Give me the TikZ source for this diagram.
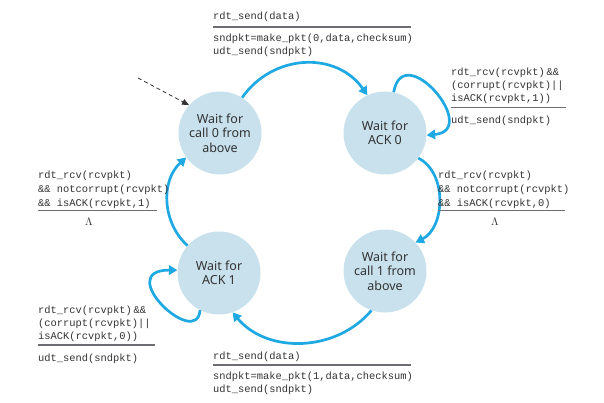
\documentclass[tikz,border=0pt]{standalone}
\usepackage{fontspec}
\setmainfont{Noto Sans}
\setmonofont{Liberation Mono}
\usetikzlibrary{arrows.meta}

\definecolor{statefill}{HTML}{C8E1ED}
\definecolor{flowblue}{HTML}{1FA9E3}
\definecolor{rulegray}{HTML}{6C6E74}
\definecolor{inkgray}{HTML}{333333}

\tikzset{
  state/.style={circle, fill=statefill, minimum size=83pt, inner sep=0pt,
    align=center, text=inkgray, font=\fontsize{12.5}{14.5}\selectfont},
  trans/.style={draw=flowblue, line width=2.7pt,
    -{Triangle[length=8.5pt,width=9.5pt]}},
  code/.style={anchor=base west, inner sep=0pt, text=inkgray,
    font=\ttfamily\fontsize{10.4}{13}\selectfont},
  lambda/.style={anchor=base, inner sep=0pt, text=inkgray,
    font=\fontsize{11}{13}\selectfont},
  divider/.style={draw=rulegray, line width=1.3pt},
  initarrow/.style={draw=inkgray, line width=0.8pt, dashed,
    dash pattern=on 4pt off 3pt, -{Triangle[length=7pt,width=6pt]}}
}

\begin{document}
\begin{tikzpicture}[x=1pt,y=1pt]
  \fill[white] (0,0) rectangle (604,402);
  \useasboundingbox (0,0) rectangle (604,402);

  % states
  \node[state] (w0)  at (220,269) {Wait for\\call 0 from\\above};
  \node[state] (a0)  at (385,269) {Wait for\\ACK 0};
  \node[state] (w1)  at (385,131) {Wait for\\call 1 from\\above};
  \node[state] (a1)  at (219,129) {Wait for\\ACK 1};

  % initial transition
  \coordinate (start) at (138,324);
  \draw[initarrow] (start) -- (w0.138);

  % transitions
  \draw[trans] (w0.58) to[out=55,in=125,looseness=1.1] (a0.115);
  \draw[trans] (a0.78) to[out=80,in=5,distance=55pt] (a0.-3);
  \draw[trans] (a0.-37) to[out=-27,in=27] (w1.43);
  \draw[trans] (w1.-109) to[out=-130,in=-50] (a1.-71);
  \draw[trans] (a1.-117) to[out=-95,in=180,out distance=40pt,in distance=65pt] (a1.176);
  \draw[trans] (a1.139) to[out=138,in=-138] (w0.-144);

  % label: w0 -> a0
  \node[code] (e1a) at (213,382) {rdt\_send(data)};
  \draw[divider] (213,375) -- (411,375);
  \node[code] (e1b) at (213,360) {sndpkt=make\_pkt(0,data,checksum)};
  \node[code] (e1c) at (213,347) {udt\_send(sndpkt)};

  % label: a0 self loop
  \node[code] (e2a) at (451,326) {rdt\_rcv(rcvpkt)\,\&\&};
  \node[code] (e2b) at (451,313) {(corrupt(rcvpkt)||};
  \node[code] (e2c) at (451,300) {isACK(rcvpkt,1))};
  \draw[divider] (451,294.5) -- (566,294.5);
  \node[code] (e2d) at (451,278) {udt\_send(sndpkt)};

  % label: a0 -> w1
  \node[code] (e3a) at (438,224) {rdt\_rcv(rcvpkt)};
  \node[code] (e3b) at (438,210) {\&\& notcorrupt(rcvpkt)};
  \node[code] (e3c) at (438,196) {\&\& isACK(rcvpkt,0)};
  \draw[divider] (438,191.5) -- (565,191.5);
  \node[lambda] (e3d) at (495,176.5) {$\Lambda$};

  % label: a1 -> w0
  \node[code] (e4a) at (38,224) {rdt\_rcv(rcvpkt)};
  \node[code] (e4b) at (38,210) {\&\& notcorrupt(rcvpkt)};
  \node[code] (e4c) at (38,196) {\&\& isACK(rcvpkt,1)};
  \draw[divider] (38,191.5) -- (157,191.5);
  \node[lambda] (e4d) at (89,176.5) {$\Lambda$};

  % label: a1 self loop
  \node[code] (e5a) at (38,89) {rdt\_rcv(rcvpkt)\,\&\&};
  \node[code] (e5b) at (38,76) {(corrupt(rcvpkt)||};
  \node[code] (e5c) at (38,63) {isACK(rcvpkt,0))};
  \draw[divider] (38,57) -- (155,57);
  \node[code] (e5d) at (38,41) {udt\_send(sndpkt)};

  % label: w1 -> a1
  \node[code] (e6a) at (213,43) {rdt\_send(data)};
  \draw[divider] (213,37) -- (411,37);
  \node[code] (e6b) at (213,23) {sndpkt=make\_pkt(1,data,checksum)};
  \node[code] (e6c) at (213,10) {udt\_send(sndpkt)};
\end{tikzpicture}
\end{document}
